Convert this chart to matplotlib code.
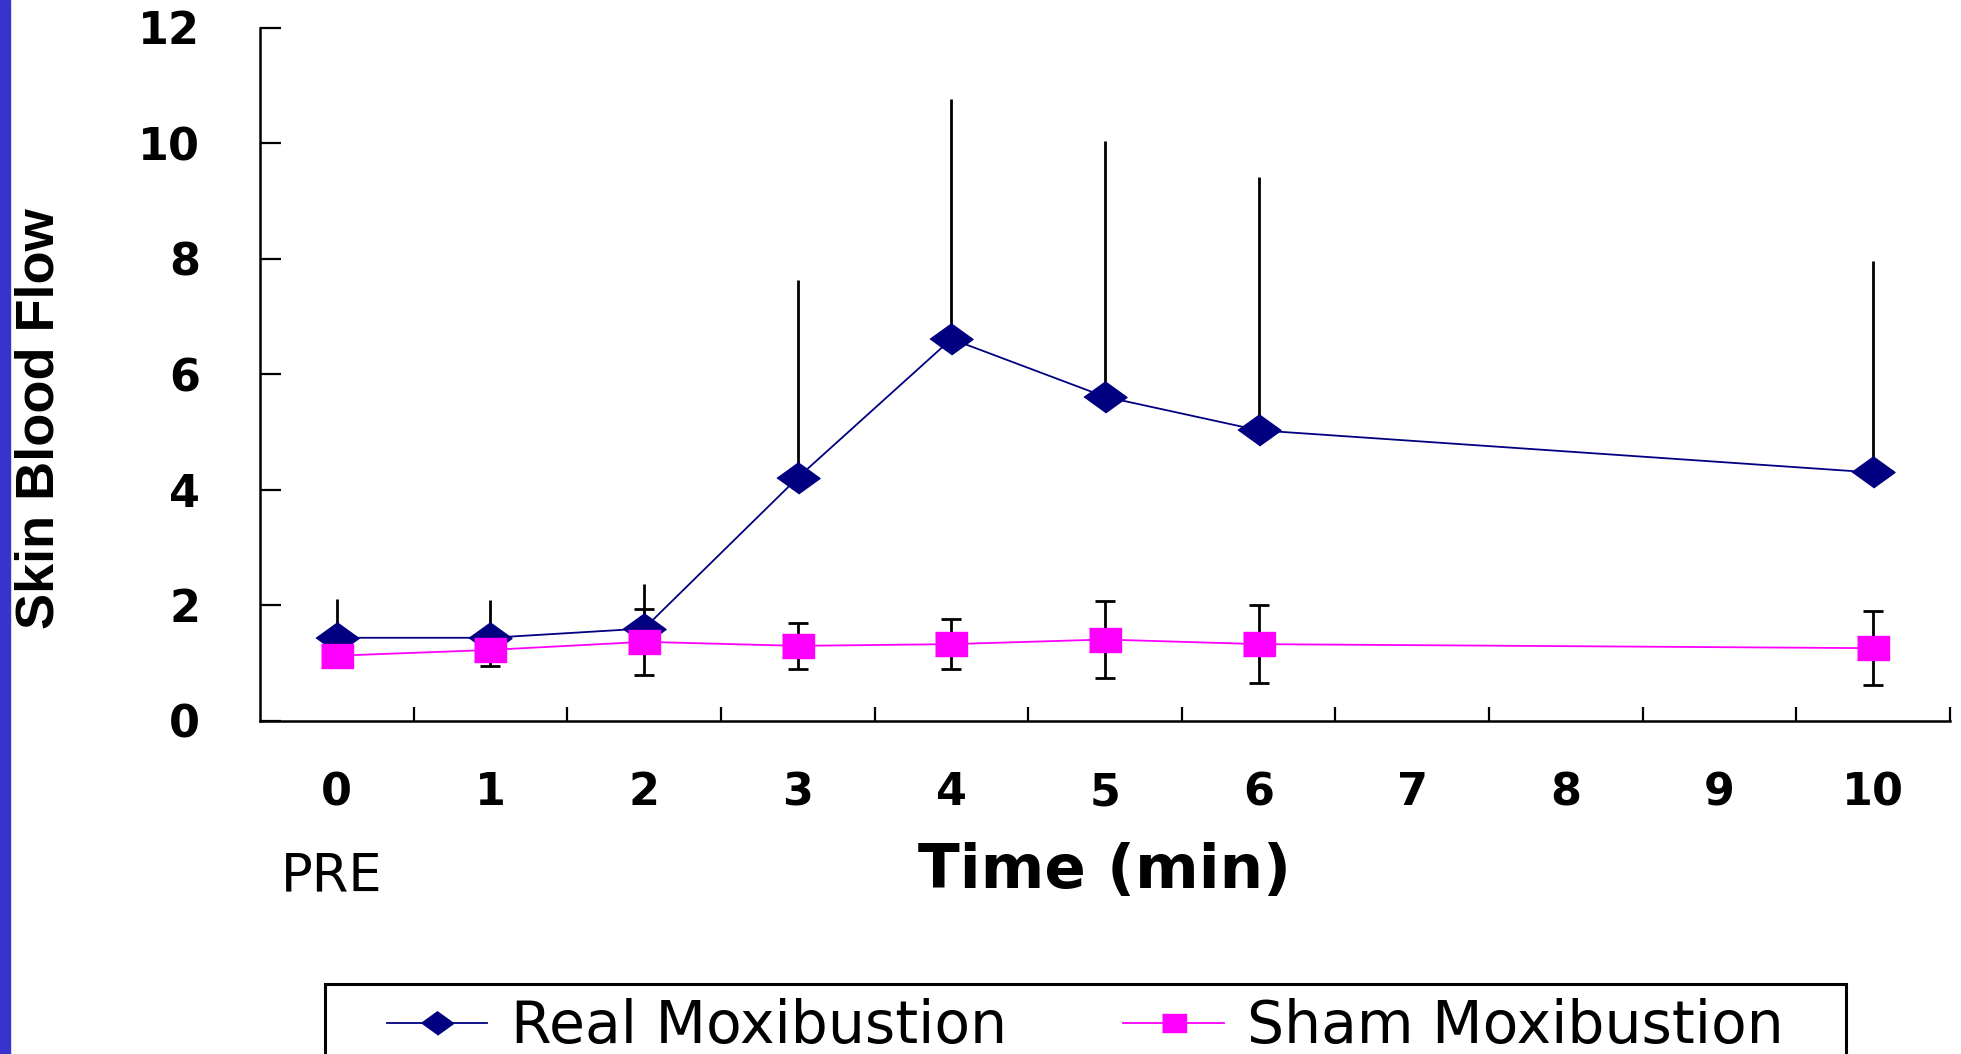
import matplotlib
matplotlib.use('Agg')
import matplotlib.pyplot as plt
from matplotlib.patches import Rectangle
import numpy as np

# time categories (min), 7-9 have no measurements
categories = ['0', '1', '2', '3', '4', '5', '6', '7', '8', '9', '10']
measured = ['0', '1', '2', '3', '4', '5', '6', '10']

real_mean = [1.44, 1.44, 1.60, 4.21, 6.61, 5.61, 5.03, 4.30]
real_sd = [0.67, 0.65, 0.77, 3.42, 4.15, 4.42, 4.38, 3.66]
sham_mean = [1.13, 1.23, 1.37, 1.30, 1.33, 1.41, 1.33, 1.26]
sham_sd = [0.18, 0.28, 0.57, 0.40, 0.435, 0.66, 0.675, 0.645]

yticks = [0, 2, 4, 6, 8, 10, 12]

W, H = 1961, 1054
fig = plt.figure(figsize=(W/100, H/100), dpi=100)
ax = fig.add_axes([260/W, 1-721/H, (1950-260)/W, (721-27.5)/H])

xpos = [categories.index(c) for c in measured]
navy = '#000080'
pink = '#ff00ff'

diamond = [(-1, 0), (0, 0.72), (1, 0), (0, -0.72)]
box = [(-1, -0.78), (1, -0.78), (1, 0.78), (-1, 0.78)]

ax.errorbar(xpos, real_mean, yerr=[np.zeros(len(real_sd)), real_sd], fmt='none',
            ecolor='black', elinewidth=2.0, capsize=0, zorder=2)
ax.errorbar(xpos, sham_mean, yerr=sham_sd, fmt='none', ecolor='black',
            elinewidth=2.0, capsize=7.5, capthick=2.0, zorder=2)
l1, = ax.plot(xpos, real_mean, color=navy, lw=1.3, marker=diamond, ms=31,
              mfc=navy, mec=navy, zorder=3)
l2, = ax.plot(xpos, sham_mean, color=pink, lw=1.3, marker=box, ms=23,
              mfc=pink, mec=pink, zorder=4)

ax.set_xlim(-0.5, len(categories)-0.5)
ax.set_ylim(0, 12)
ax.set_yticks(yticks)
ax.set_xticks(range(len(categories)))
ax.set_xticklabels(categories)
ax.set_xticks(np.arange(0.5, len(categories), 1), minor=True)

for s in ['top', 'right']:
    ax.spines[s].set_visible(False)
for s in ['left', 'bottom']:
    ax.spines[s].set_linewidth(1.8)

ax.tick_params(axis='y', direction='in', length=15, width=1.6, pad=43,
               labelsize=32)
ax.tick_params(axis='x', which='major', length=0, pad=36, labelsize=32)
ax.tick_params(axis='x', which='minor', direction='in', length=10, width=1.6)
for lab in ax.get_xticklabels() + ax.get_yticklabels():
    lab.set_fontweight('bold')

ax.set_xlabel('Time (min)', fontsize=44, fontweight='bold', va='center')
ax.xaxis.set_label_coords(0.5, (721-871)/693.5)
ax.set_ylabel('Skin Blood Flow', fontsize=39, fontweight='bold',
              family='Liberation Sans', va='center', ha='center')
ax.yaxis.set_label_coords((39-260)/1690, (721-419)/693.5)

fig.text(332/W, 1-876/H, 'PRE', fontsize=38, ha='center', va='center')

# left accent bar
fig.patches.append(Rectangle((0, 0), 10/W, 1, transform=fig.transFigure,
                             color='#3833cc', zorder=0))

# legend box, runs off the bottom edge
fig.patches.append(Rectangle((325/W, -0.1), (1846-325)/W, 0.1+1-984/H,
                             transform=fig.transFigure, fill=False,
                             edgecolor='black', lw=2.2))
fig.legend([l1, l2], ['Real Moxibustion', 'Sham Moxibustion'],
           loc='center left', bbox_to_anchor=(387/W, 1-1027/H), ncol=2,
           frameon=False, borderpad=0, borderaxespad=0, fontsize=42,
           handlelength=1.72, handletextpad=0.4, columnspacing=2.0,
           markerscale=0.75)

fig.savefig('out.png', dpi=100)
